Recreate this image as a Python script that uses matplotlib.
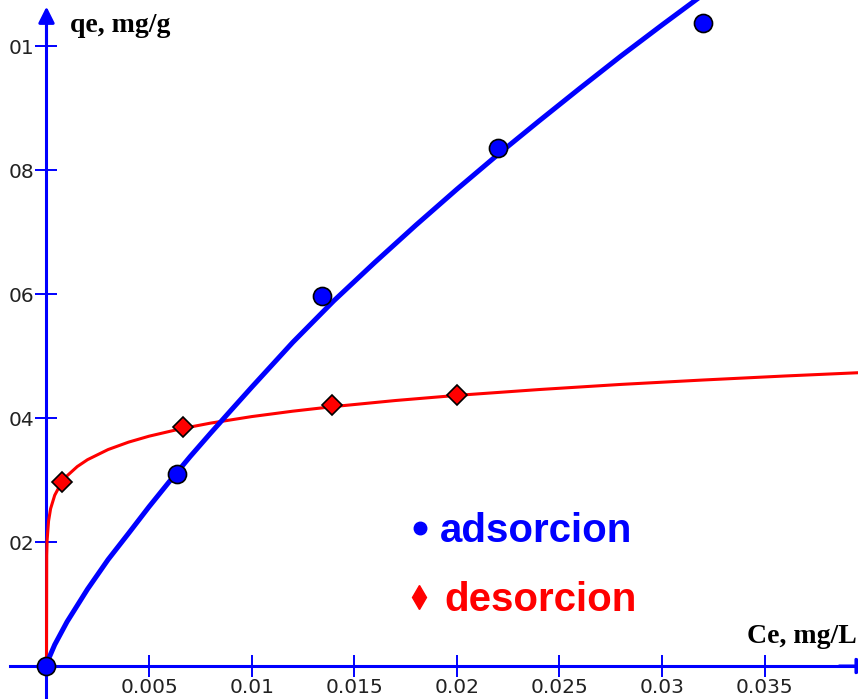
import matplotlib
matplotlib.use("Agg")
import matplotlib.pyplot as plt

# Measured points: Ce [mg/L] vs qe [mg/g]
ce_ads = [0.0, 0.00636, 0.01343, 0.0220, 0.0320]
qe_ads = [0.0, 0.0310, 0.0597, 0.0835, 0.1037]

ce_des = [0.00074, 0.00667, 0.0139, 0.0200]
qe_des = [0.0296, 0.0386, 0.0421, 0.0437]

# Fitted isotherm curves, sampled along Ce
ce_ads_fit = [0.0, 0.0001, 0.0004, 0.001, 0.002, 0.003, 0.004, 0.005, 0.006,
              0.007, 0.008, 0.009, 0.010, 0.012, 0.014, 0.016, 0.018, 0.020,
              0.022, 0.024, 0.026, 0.028, 0.030, 0.032]
qe_ads_fit = [0.0, 0.00113, 0.00343, 0.00713, 0.0124, 0.01716, 0.0214, 0.0257, 0.0298,
              0.03378, 0.03757, 0.04128, 0.04497, 0.0522, 0.0589, 0.0651, 0.0711, 0.0769,
              0.0825, 0.0879, 0.0932, 0.0984, 0.1034, 0.1083]

ce_des_fit = [0.0, 0.00001, 0.00003, 0.0001, 0.0002, 0.0004, 0.0007, 0.001, 0.0015,
              0.002, 0.003, 0.004, 0.005, 0.0065, 0.008, 0.010, 0.012, 0.014,
              0.017, 0.020, 0.024, 0.028, 0.032, 0.036, 0.0396]
qe_des_fit = [0.0, 0.01783, 0.02029, 0.02338, 0.02538, 0.02754, 0.02941, 0.03067, 0.03217,
              0.03328, 0.03491, 0.03611, 0.03707, 0.03823, 0.03918, 0.04023, 0.04110, 0.04185,
              0.04282, 0.04365, 0.04459, 0.04542, 0.04613, 0.04678, 0.04731]

x_ticks = [0.005, 0.01, 0.015, 0.02, 0.025, 0.03, 0.035]
x_tick_labels = ["0.005", "0.01", "0.015", "0.02", "0.025", "0.03", "0.035"]
y_ticks = [0.02, 0.04, 0.06, 0.08, 0.10]
y_tick_labels = ["02", "04", "06", "08", "01"]

BLUE = "#0000ff"
RED = "#ff0000"
XMIN, XMAX = -0.002266, 0.039547
YMIN, YMAX = -0.00532, 0.10742

fig = plt.figure(figsize=(8.58, 6.99), dpi=100)
ax = fig.add_axes([0, 0, 1, 1])
ax.set_xlim(XMIN, XMAX)
ax.set_ylim(YMIN, YMAX)

# axes crossing at the origin
for side in ("top", "right"):
    ax.spines[side].set_visible(False)
for side in ("left", "bottom"):
    ax.spines[side].set_position(("data", 0))
    ax.spines[side].set_color(BLUE)
    ax.spines[side].set_linewidth(2.2)
ax.spines["bottom"].set_bounds(-0.0018, XMAX)
ax.spines["left"].set_bounds(YMIN, 0.105)

ax.annotate("", xy=(0, 0.1068), xytext=(0, 0.100),
            arrowprops=dict(arrowstyle="-|>", color=BLUE, lw=2.2, mutation_scale=24))
ax.annotate("", xy=(0.0404, 0), xytext=(0.0385, 0),
            arrowprops=dict(arrowstyle="-|>", color=BLUE, lw=2.2, mutation_scale=24),
            annotation_clip=False)

tick_font = ["Liberation Sans Narrow", "DejaVu Sans"]
ax.set_xticks(x_ticks)
ax.set_xticklabels(x_tick_labels, family=tick_font, fontsize=14.5, color="#222222")
ax.set_yticks(y_ticks)
ax.set_yticklabels(y_tick_labels, family=tick_font, fontsize=14.5, color="#222222")
ax.tick_params(axis="both", direction="inout", length=16, width=1.4, color=BLUE)
ax.tick_params(axis="x", pad=0.5)
ax.tick_params(axis="y", pad=1)

ax.plot(ce_des_fit, qe_des_fit, color=RED, lw=2.2, zorder=3)
ax.plot(ce_ads_fit, qe_ads_fit, color=BLUE, lw=3.6, zorder=4)
ax.plot(ce_des, qe_des, "D", color=RED, ms=10, mec="black", mew=1.2, zorder=5)
ax.plot(ce_ads, qe_ads, "o", color=BLUE, ms=13, mec="black", mew=1.2, zorder=6,
        clip_on=False)

label_font = ["Liberation Serif", "DejaVu Serif"]
ax.text(0.082, 0.964, "qe, mg/g", transform=ax.transAxes, ha="left", va="center",
        family=label_font, fontweight="bold", fontsize=20)
ax.text(0.999, 0.089, "Ce, mg/L", transform=ax.transAxes, ha="right", va="center",
        family=label_font, fontweight="bold", fontsize=20)

# legend entries
ax.plot([0.490], [0.245], "o", color=BLUE, ms=9, transform=ax.transAxes)
ax.text(0.513, 0.241, "adsorcion", transform=ax.transAxes, ha="left", va="center",
        family="Liberation Sans", fontweight="bold", fontsize=29, color=BLUE)
ax.plot([0.488], [0.146], "d", color=RED, ms=12, transform=ax.transAxes)
ax.text(0.518, 0.142, "desorcion", transform=ax.transAxes, ha="left", va="center",
        family="Liberation Sans", fontweight="bold", fontsize=29, color=RED)

fig.savefig("out.png", dpi=100)
